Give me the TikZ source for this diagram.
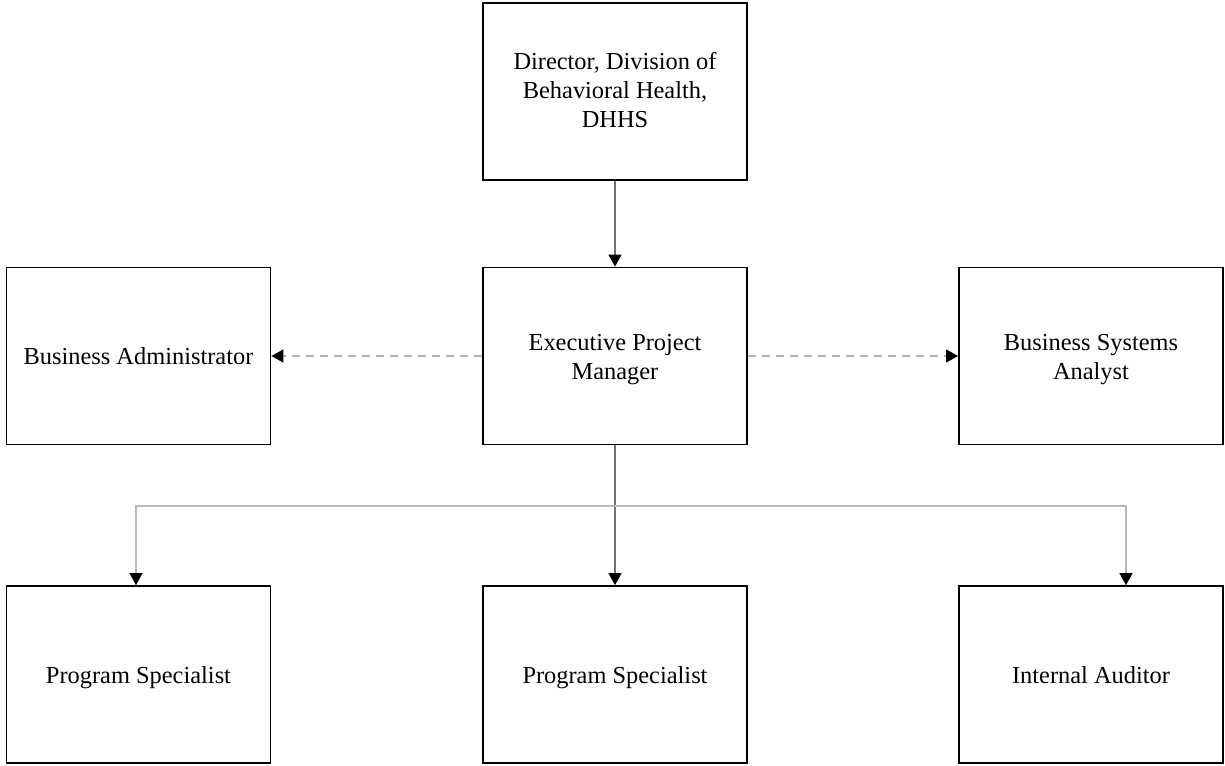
\documentclass[tikz,border=0pt]{standalone}
\usepackage{fontspec}
\setmainfont{Liberation Serif}
\usetikzlibrary{arrows.meta}
\begin{document}
\begin{tikzpicture}[x=0.5pt,y=-0.5pt,
  txt/.style={align=center,font=\fontsize{12.2}{14.5}\selectfont,inner sep=0pt},
  box/.style={txt,draw=black,line width=0.9pt,minimum width=132pt,minimum height=88.5pt,
    execute at begin node={\rule{0pt}{13pt}},execute at end node=\strut},
  tip/.style={-{Triangle[length=6pt,width=6.5pt,color=black]}},
  solidline/.style={tip,draw=black!55,line width=0.6pt},
  busline/.style={draw=black!28,line width=0.6pt},
  dashline/.style={tip,draw=black!30,line width=0.7pt,dash pattern=on 4pt off 3pt}]
\useasboundingbox (0,0) rectangle (1225,765);
\node[box,label={[txt,yshift=0.5pt]center:{Director, Division of\\Behavioral Health,\\DHHS}}] (dir) at (615,91.5) {};
\node[box,label={[txt,yshift=-2pt]center:{Executive Project\\Manager}}] (epm) at (615,356) {};
\node[box] (ba) at (138.5,356) {Business Administrator};
\node[box,label={[txt,yshift=-2pt]center:{Business Systems\\Analyst}}] (bsa) at (1091,356) {};
\node[box] (ps1) at (138.5,674.5) {Program Specialist};
\node[box] (ps2) at (615,674.5) {Program Specialist};
\node[box] (ia) at (1091,674.5) {Internal Auditor};
\coordinate (bus) at (615,506);
\draw[solidline] (dir) -- (epm);
\draw[dashline] (epm) -- (ba);
\draw[dashline] (epm) -- (bsa);
\draw[solidline] (epm) -- (ps2);
\draw[busline] (bus) -| ([xshift=-1.25pt]ps1.north);
\draw[busline] (bus) -| ([xshift=17.5pt]ia.north);
\path[tip,draw=black!28,line width=0.6pt] ([xshift=-1.25pt,yshift=20pt]ps1.north) -- ([xshift=-1.25pt]ps1.north);
\path[tip,draw=black!28,line width=0.6pt] ([xshift=17.5pt,yshift=20pt]ia.north) -- ([xshift=17.5pt]ia.north);
\end{tikzpicture}
\end{document}
